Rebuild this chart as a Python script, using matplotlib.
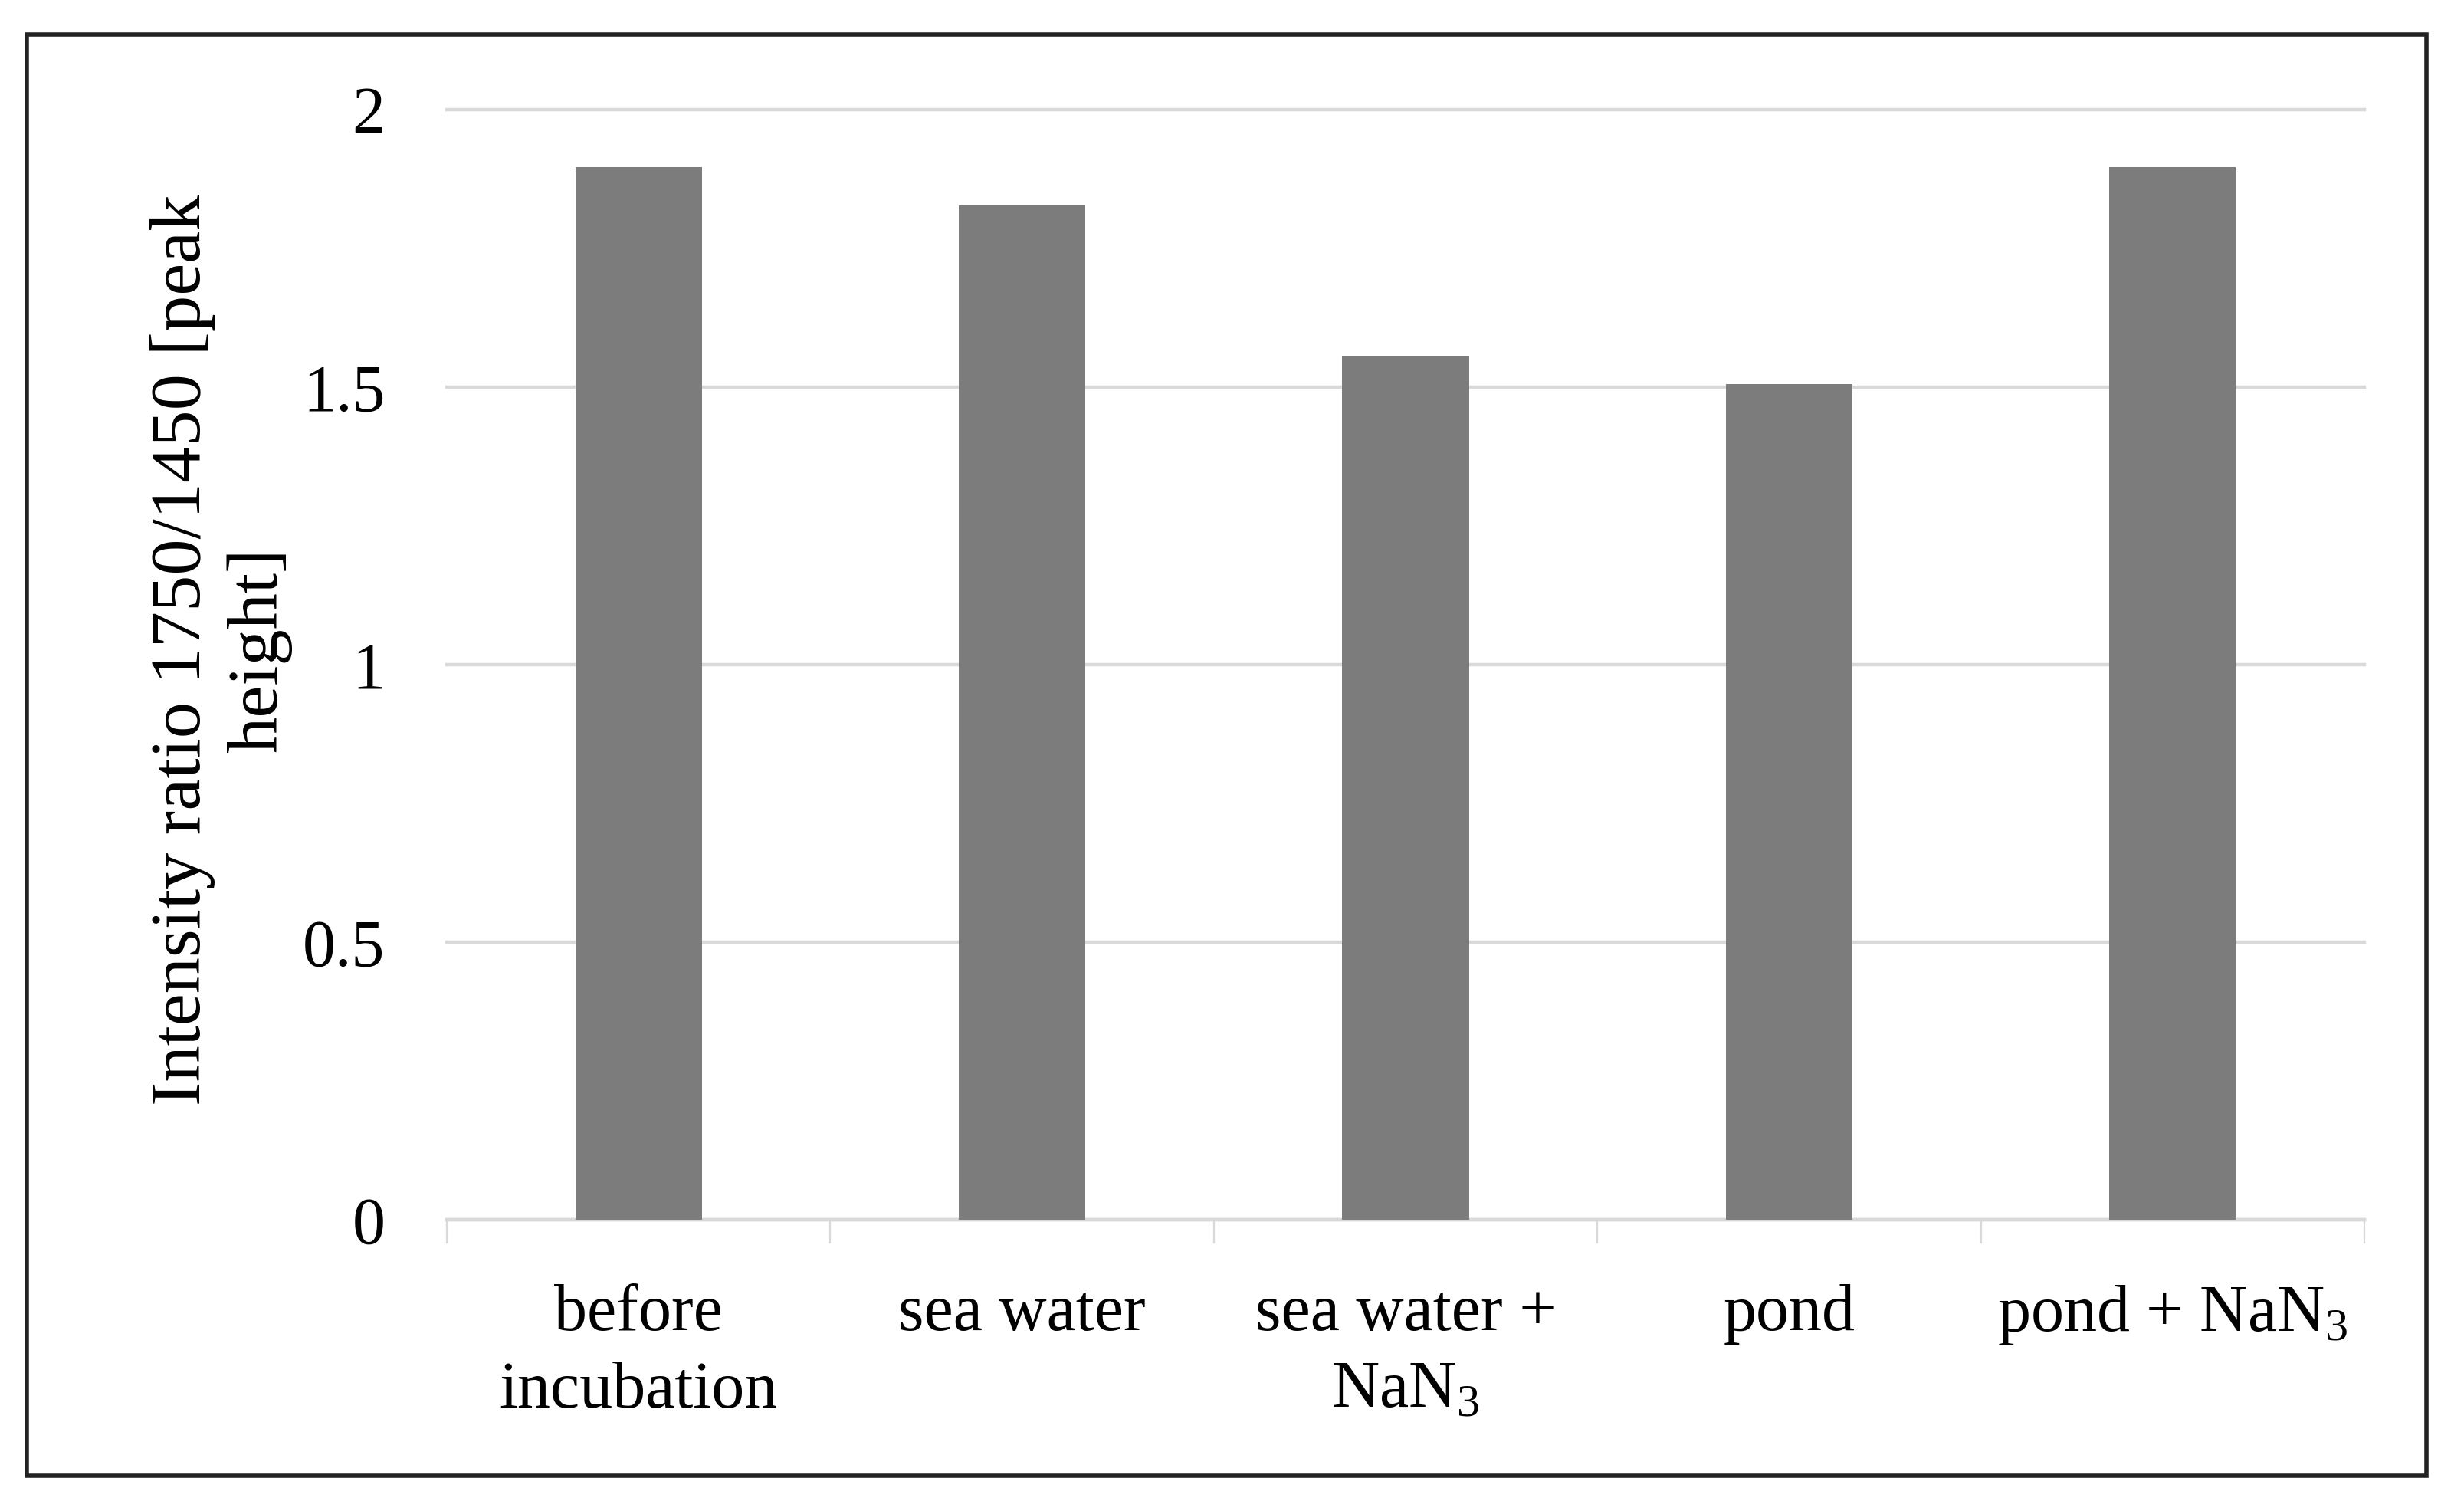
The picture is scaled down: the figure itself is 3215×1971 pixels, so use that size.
import matplotlib
matplotlib.use("Agg")
import matplotlib.pyplot as plt
from matplotlib.patches import Rectangle
import numpy as np

plt.rcParams["font.family"] = ["Liberation Serif", "DejaVu Serif"]
plt.rcParams["mathtext.fontset"] = "custom"
plt.rcParams["mathtext.rm"] = "Liberation Serif"
plt.rcParams["mathtext.it"] = "Liberation Serif:italic"
plt.rcParams["mathtext.bf"] = "Liberation Serif:bold"

# data
categories = ["before\nincubation", "sea water", "sea water +\nNaN$_3$", "pond", "pond + NaN$_3$"]
ratio = [1.896, 1.827, 1.557, 1.505, 1.897]
yticks = [0, 0.5, 1, 1.5, 2]
ylabel = "Intensity ratio 1750/1450 [peak\nheight]"

W, H = 3215, 1971
fig = plt.figure(figsize=(W / 100, H / 100), dpi=100)
ax = fig.add_axes([583 / W, 1 - 1591 / H, (3085 - 583) / W, (1591 - 143) / H])

x = np.arange(len(categories))
ax.bar(x, ratio, width=0.33, color="#7c7c7c", zorder=3)

ax.set_xlim(-0.5, len(categories) - 0.5)
ax.set_ylim(0, 2)
ax.set_yticks(yticks)
ax.set_yticklabels(["%g" % v for v in yticks])
ax.set_xticks(x)
ax.set_xticklabels(categories, multialignment="center", linespacing=1.35)
ax.set_xticks(np.arange(len(categories) + 1) - 0.5, minor=True)

ax.tick_params(axis="y", length=0, pad=58, labelsize=62)
ax.tick_params(axis="x", which="major", length=0, pad=60, labelsize=62)
ax.tick_params(axis="x", which="minor", length=22, width=1.6, color="#d9d9d9")

ax.yaxis.grid(True, color="#d9d9d9", linewidth=3.2, zorder=0)
for gl in ax.get_ygridlines():
    gl.set_clip_on(False)
for s in ["top", "right", "left"]:
    ax.spines[s].set_visible(False)
ax.spines["bottom"].set_color("#d9d9d9")
ax.spines["bottom"].set_linewidth(3.2)
ax.set_axisbelow(True)

fig.text(288 / W, 1 - 848 / H, ylabel, rotation=90, ha="center", va="center",
         fontsize=68, linespacing=1.22, multialignment="center")

# outer frame
fig.patches.append(Rectangle((35 / W, 1 - 1925 / H), (3166 - 35) / W, (1925 - 45) / H,
                             transform=fig.transFigure, fill=False,
                             edgecolor="#222222", linewidth=4))

fig.savefig("out.png", dpi=100, facecolor="white")
